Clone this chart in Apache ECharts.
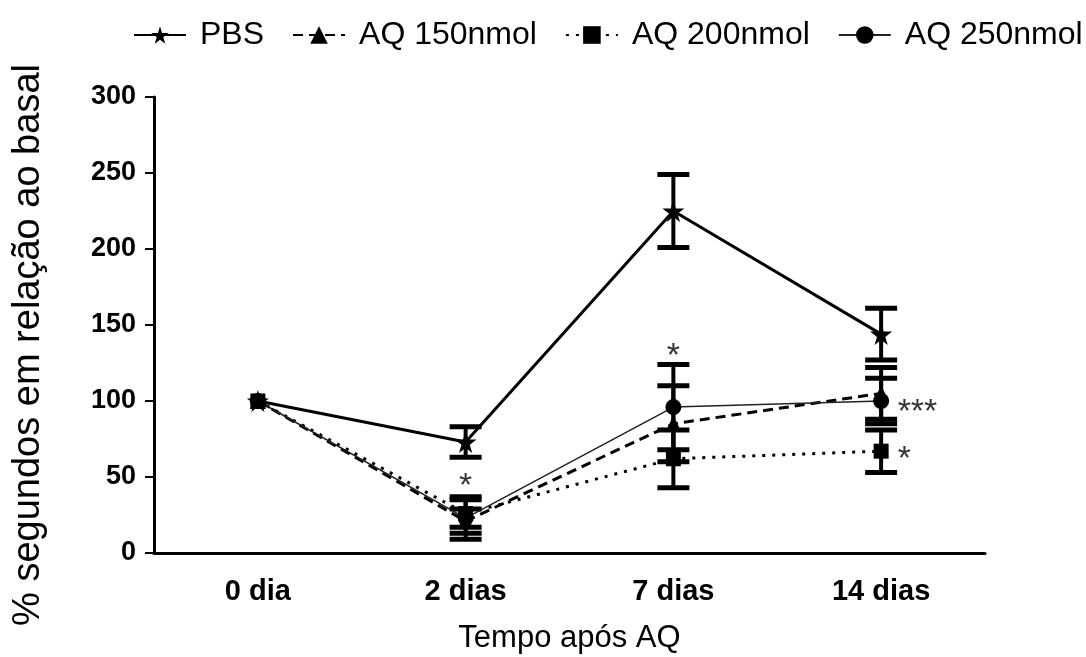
<!DOCTYPE html>
<html>
<head>
<meta charset="utf-8">
<script src="https://cdn.jsdelivr.net/npm/echarts@6/dist/echarts.min.js"></script>
<style>
  html, body { margin: 0; padding: 0; background: #fff; }
  #chart { width: 1086px; height: 657px; }
</style>
</head>
<body>
<div id="chart"></div>
<script>
// Time points after AQ injection
const categories = ['0 dia', '2 dias', '7 dias', '14 dias'];
const yTicks = [0, 50, 100, 150, 200, 250, 300];

// Group means (% of basal) and SEM
const pbsMean   = [100, 73, 225, 144];
const pbsSem    = [0, 10, 24, 17];
const aq150Mean = [100, 21, 85, 105];
const aq150Sem  = [0, 8, 25, 17];
const aq200Mean = [100, 26, 62, 67];
const aq200Sem  = [0, 9, 19, 14];
const aq250Mean = [100, 23, 96, 100];
const aq250Sem  = [0, 14, 28, 15];

// Significance marks: [time point, value, text]
const marksAbove = [['2 dias', 50, '*'], ['7 dias', 136, '*']];
const marksBeside = [['14 dias', 99, '***'], ['14 dias', 68, '*']];

const STAR = 'path://M50,0 L61,35 L98,35 L68,57 L79,91 L50,70 L21,91 L32,57 L2,35 L39,35 Z';
const FONT = 'Liberation Sans, Arial, sans-serif';

const groups = [
  { name: 'PBS', mean: pbsMean, sem: pbsSem, symbol: STAR, size: 22,
    line: { color: '#000', width: 3, type: 'solid' } },
  { name: 'AQ 150nmol', mean: aq150Mean, sem: aq150Sem, symbol: 'triangle', size: 16,
    line: { color: '#000', width: 3, type: [10, 6] } },
  { name: 'AQ 200nmol', mean: aq200Mean, sem: aq200Sem, symbol: 'rect', size: 15,
    line: { color: '#000', width: 3, type: [3, 7] } },
  { name: 'AQ 250nmol', mean: aq250Mean, sem: aq250Sem, symbol: 'circle', size: 16,
    line: { color: '#222', width: 1.5, type: 'solid' } }
];

function errorBarSeries(g) {
  return {
    type: 'custom',
    name: g.name + ' SEM',
    z: 3,
    silent: true,
    data: categories.map((c, i) => [i, g.mean[i] - g.sem[i], g.mean[i] + g.sem[i]]),
    renderItem: function (params, api) {
      if (api.value(2) - api.value(1) <= 0) return null;
      const lo = api.coord([api.value(0), api.value(1)]);
      const hi = api.coord([api.value(0), api.value(2)]);
      const hw = 16;
      const cap = { stroke: '#000', lineWidth: 5 };
      return {
        type: 'group',
        children: [
          { type: 'line', shape: { x1: lo[0], y1: lo[1], x2: hi[0], y2: hi[1] }, style: { stroke: '#000', lineWidth: 4 } },
          { type: 'line', shape: { x1: lo[0] - hw, y1: lo[1], x2: lo[0] + hw, y2: lo[1] }, style: cap },
          { type: 'line', shape: { x1: hi[0] - hw, y1: hi[1], x2: hi[0] + hw, y2: hi[1] }, style: cap }
        ]
      };
    }
  };
}

const lineSeries = groups.map(g => ({
  type: 'line',
  name: g.name,
  data: g.mean,
  symbol: g.symbol,
  symbolSize: g.size,
  showAllSymbol: true,
  z: 4,
  itemStyle: { color: '#000', borderWidth: 0 },
  lineStyle: g.line
}));

const annotation = (arr, pos) => ({
  type: 'scatter',
  silent: true,
  symbol: 'circle',
  symbolSize: 1,
  itemStyle: { color: 'rgba(0,0,0,0)' },
  z: 5,
  data: arr.map(m => ({ value: [m[0], m[1]], label: { formatter: m[2] } })),
  label: {
    show: true,
    position: pos,
    distance: pos === 'right' ? 16 : 0,
    fontFamily: FONT,
    fontSize: 34,
    color: '#000',
    offset: [0, 10]
  }
});

const chart = echarts.init(document.getElementById('chart'), null, { renderer: 'canvas' });
chart.setOption({
  animation: false,
  backgroundColor: '#fff',
  legend: {
    data: groups.map(g => g.name),
    left: 128,
    top: 14,
    width: 958,
    itemWidth: 52,
    itemHeight: 22,
    itemGap: 28,
    textStyle: { fontFamily: FONT, fontSize: 32, color: '#000', padding: [0, 0, 0, 9] }
  },
  grid: { left: 154, right: 101, top: 97, bottom: 104, containLabel: false, outerBoundsMode: 'none' },
  xAxis: {
    type: 'category',
    data: categories,
    boundaryGap: true,
    name: 'Tempo após AQ',
    nameLocation: 'middle',
    nameGap: 70,
    nameTextStyle: { fontFamily: FONT, fontSize: 31, color: '#000' },
    axisLine: { lineStyle: { color: '#000', width: 3 } },
    axisTick: { alignWithLabel: true, length: 9, lineStyle: { color: '#000', width: 2 } },
    axisLabel: { fontFamily: FONT, fontWeight: 'bold', fontSize: 29, color: '#000', margin: 24 },
    splitLine: { show: false }
  },
  yAxis: {
    type: 'value',
    min: yTicks[0],
    max: yTicks[yTicks.length - 1],
    interval: yTicks[1] - yTicks[0],
    name: '% segundos em relação ao basal',
    nameLocation: 'middle',
    nameGap: 106,
    nameRotate: 90,
    nameTextStyle: { fontFamily: FONT, fontSize: 38, color: '#000', padding: [0, 40, 0, 0] },
    axisLine: { show: true, lineStyle: { color: '#000', width: 3 } },
    axisTick: { show: true, length: 9, lineStyle: { color: '#000', width: 2 } },
    axisLabel: { fontFamily: FONT, fontWeight: 'bold', fontSize: 27, color: '#000', margin: 18 },
    splitLine: { show: false }
  },
  series: [
    ...groups.map(errorBarSeries),
    ...lineSeries,
    annotation(marksAbove, 'inside'),
    annotation(marksBeside, 'right')
  ]
});
</script>
</body>
</html>
